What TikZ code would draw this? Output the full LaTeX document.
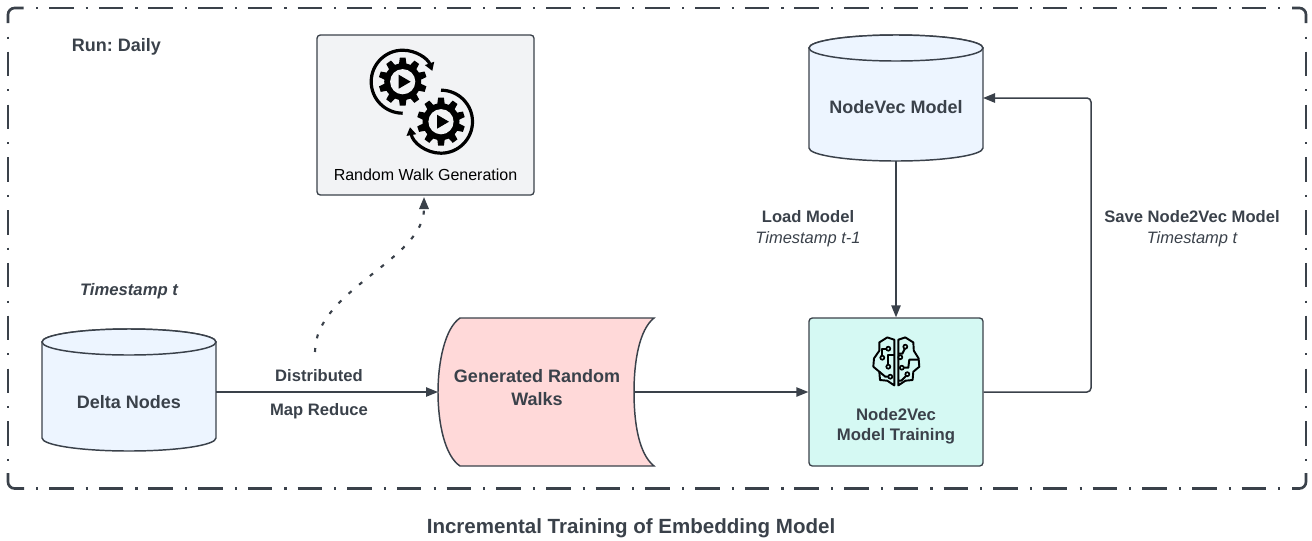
\documentclass[tikz,border=0pt]{standalone}
\usepackage{fontspec}
\setmainfont{Liberation Sans}
\usetikzlibrary{arrows.meta}
\definecolor{ink}{HTML}{3A414A}
\definecolor{txt}{HTML}{3A414A}
\definecolor{cylfill}{HTML}{EDF5FF}
\definecolor{boxfill}{HTML}{F2F3F5}
\definecolor{trainfill}{HTML}{D5F9F3}
\definecolor{walkfill}{HTML}{FFD9D9}
\tikzset{
  ln/.style={draw=ink,line width=1.5*0.75pt},
  arr/.style={ln,-{Triangle[length=9pt,width=7pt]}},
  cyl/.style={draw=ink,line width=1.1pt,fill=#1},
  lab/.style={text=txt,font=\fontsize{#1}{#1}\selectfont\bfseries,align=center,inner sep=0pt},
  lab/.default=13.5,
  ita/.style={text=txt,font=\fontsize{12.35}{14}\selectfont\itshape,align=center,inner sep=0pt},
  wire/.style={draw=black,line width=1.45pt,line join=round},
  pin/.style={draw=black,line width=1.25pt,fill=trainfill},
  framecorner/.style={draw=ink,line width=2pt,rounded corners=5pt},
  frameh/.style={draw=ink,line width=2pt,dash pattern=on 1.6pt off 8.2pt on 18.4pt off 9.07pt},
  framev/.style={draw=ink,line width=2pt,dash pattern=on 1.6pt off 9.8pt on 18.4pt off 9.8pt},
}
\newcommand{\cylshape}[5]{% x0 x1 ytop ybot fill
  \pgfmathsetmacro{\cx}{(#1+#2)/2}\pgfmathsetmacro{\rx}{(#2-#1)/2}
  \path[cyl=#5] (#1,#3) -- (#1,#4) arc[start angle=180,end angle=360,x radius=\rx,y radius=-13]
     -- (#2,#3) arc[start angle=0,end angle=180,x radius=\rx,y radius=-13] -- cycle;
  \path[cyl=#5] (\cx,#3) ellipse[x radius=\rx,y radius=13];
}
\newcommand{\gearicon}[2]{%
  \begin{scope}[shift={(#1,#2)}]
    \fill[black] (0,0) circle[radius=18.5];
    \foreach \a in {0,36,...,324}{
      \fill[black,rotate=\a] (-3.8,-17) -- (-2.9,-24) -- (2.9,-24) -- (3.8,-17) -- cycle;
    }
    \fill[boxfill] (0,0) circle[radius=12.6];
    \fill[black] (-4,-7) -- (8,0) -- (-4,7) -- cycle;
  \end{scope}
}
\frenchspacing
\begin{document}
\begin{tikzpicture}[x=0.75pt,y=-0.75pt]
\useasboundingbox (0,0) rectangle (1312,540);
% frame
\draw[framecorner] (8,23) -- (8,8) -- (23.5,8);
\draw[framecorner] (1292,8) -- (1306,8) -- (1306,23);
\draw[framecorner] (1306,473) -- (1306,488.5) -- (1292,488.5);
\draw[framecorner] (24,488.5) -- (8,488.5) -- (8,473);
\draw[frameh] (36,8) -- (1280,8);
\draw[frameh] (36,488.5) -- (1280,488.5);
\draw[framev] (8,36.5) -- (8,461);
\draw[framev] (1306,36.5) -- (1306,461);
\node[lab] (run) at (116.5,46.5) {Run: Daily};
% random walk box
\node[draw=ink,line width=1pt,fill=boxfill,rounded corners=2.5pt,minimum width=217*0.75pt,minimum height=160*0.75pt,inner sep=0pt] (rw) at (425.5,115) {};
\gearicon{402.7}{81.7}
\gearicon{441}{121.7}
\draw[black,line width=2.4pt,-{Triangle[length=6pt,width=7pt]}] (402.7,113.2) arc[start angle=90,end angle=340,radius=31.5];
\draw[black,line width=2.4pt,-{Triangle[length=6pt,width=7pt]}] (441,90.2) arc[start angle=270,end angle=530,radius=31.5];
\node[text=black,font=\fontsize{12}{14}\selectfont,inner sep=0pt] (rwt) at (425.5,174.5) {Random Walk Generation};
% delta nodes
\cylshape{42}{216}{342}{438}{cylfill}
\node[lab] (delta) at (129,402.5) {Delta Nodes};
\node[text=txt,font=\fontsize{12.5}{14}\selectfont\bfseries\itshape,inner sep=0pt] (ts) at (129,291.5) {Timestamp t};
% node vec
\cylshape{809}{983}{48}{148}{cylfill}
\node[lab] (nv) at (896,107.5) {NodeVec Model};
% walks
\path[draw=ink,line width=1.1pt,fill=walkfill] (460,318) -- (654,318) .. controls (639,330) and (634,362) .. (634,392) .. controls (634,424) and (639,454) .. (654,466) -- (460,466) .. controls (445,456) and (438,424) .. (438,392) .. controls (438,362) and (445,328) .. (460,318) -- cycle;
\coordinate (wl) at (438,392);
\coordinate (wr) at (634,392);
\node[lab] (gw) at (537,387.5) {Generated Random\\[3.2pt]Walks};
% training
\node[draw=ink,line width=1pt,fill=trainfill,rounded corners=2.5pt,minimum width=174*0.75pt,minimum height=148*0.75pt,inner sep=0pt] (tr) at (896,392) {};
\node[lab=12.55] (trt) at (896,426) {Node2Vec\\[2.6pt]Model Training};
% brain icon
\begin{scope}[shift={(896.3,361.7)}]
  \draw[wire] (-2,-22) -- (-9,-24.3) -- (-17,-19.3) -- (-17,-11) -- (-22.3,-3.3) -- (-23,5) -- (-17,10) -- (-16.3,18.3) -- (-9,19) -- (-2,23.7) -- cycle;
  \draw[wire] (2,-22) -- (9,-24.3) -- (17,-19.3) -- (17.5,-11) -- (22.3,-3.3) -- (23,5) -- (17,10) -- (16.3,18.3) -- (9,19) -- (2,23.7) -- cycle;
  \draw[wire] (-8,-13) -- (-14,-13) -- (-14,-5);
  \draw[pin] (-8,-13) circle[radius=2];
  \draw[pin] (-14,-4) circle[radius=2];
  \draw[wire] (-2,-7) -- (-8,-7) -- (-8,4);
  \draw[pin] (-8,5) circle[radius=2];
  \draw[wire] (-17,10) -- (-11,15) -- (-7,15);
  \draw[pin] (-6,15) circle[radius=2];
  \draw[wire] (2,-8) -- (6,-8) -- (9,-14);
  \draw[pin] (9,-15) circle[radius=2];
  \draw[wire] (2,-2) -- (4,-4);
  \draw[pin] (4,-4.5) circle[radius=2];
  \draw[wire] (22,-2) -- (13,-2) -- (12,6) -- (7,6);
  \draw[pin] (5.5,6) circle[radius=2];
  \draw[wire] (11,13) -- (5,19) -- (2,19);
  \draw[pin] (11,12.5) circle[radius=2];
\end{scope}
% connectors
\coordinate (dr) at (216,392);
\draw[arr] (dr) -- (wl);
\draw[arr] (wr) -- (tr.west);
\coordinate (nvb) at (896,161);
\draw[arr] (nvb) -- (tr.north);
\coordinate (nvr) at (983,98);
\draw[ln,{Triangle[length=9pt,width=7pt]}-,rounded corners=3pt] (nvr) -- (1091,98) -- (1091,392) -- (tr.east);
\coordinate (ds) at (315,352);
\draw[ln,line width=1.6pt,dash pattern=on 3pt off 7.4pt,-{Triangle[length=9pt,width=7pt]}] (ds) .. controls (315,290) and (424,260) .. (424,197);
\node[lab=12.45] (dist) at (319,376) {Distributed};
\node[lab=12.45] (mr) at (319,411.5) {Map Reduce};
\node[lab=12.45] (lm) at (808,216.5) {Load Model};
\node[ita] (lm2) at (808,239) {Timestamp t-1};
\node[lab=12.45] (sv) at (1192,216.5) {Save Node2Vec Model};
\node[ita] (sv2) at (1192,239) {Timestamp t};
\node[lab=15.4] (title) at (631,528.5) {Incremental Training of Embedding Model};
\end{tikzpicture}
\end{document}
